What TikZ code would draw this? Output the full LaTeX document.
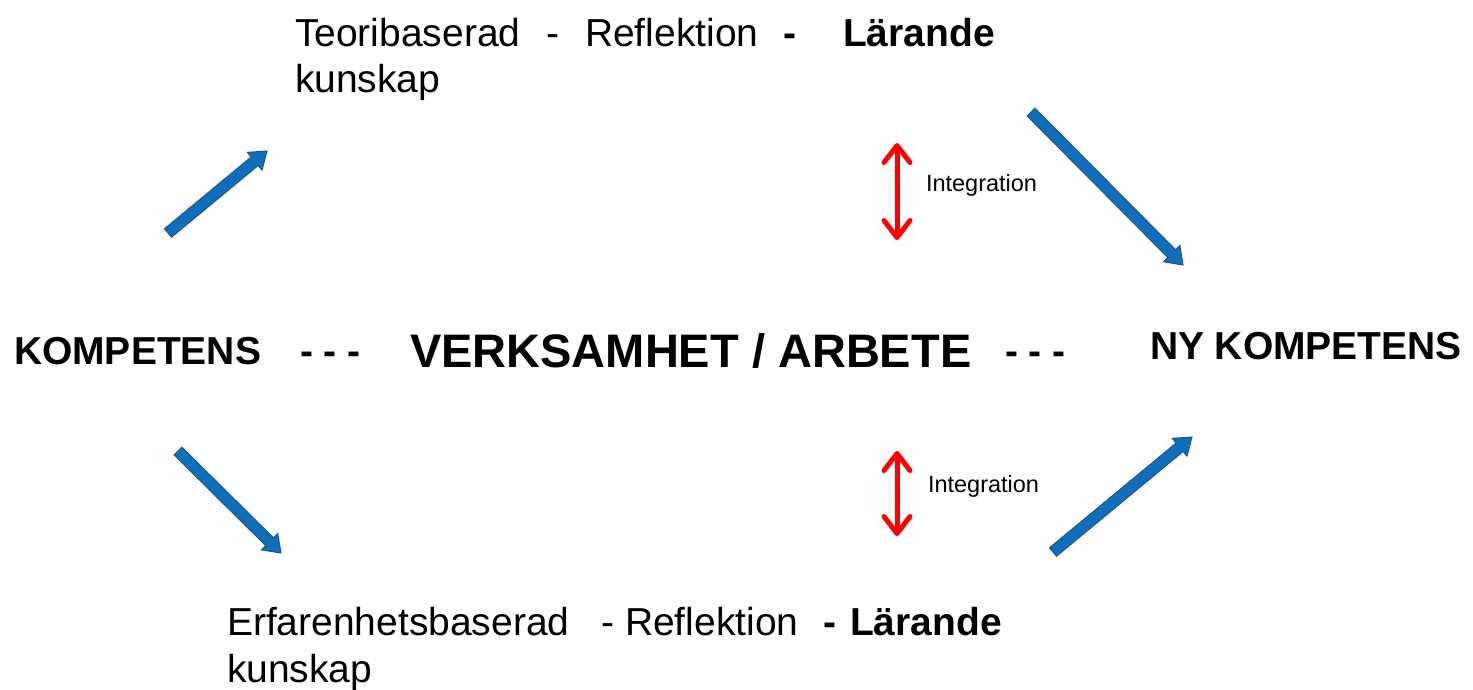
\documentclass[tikz,border=0pt]{standalone}
\usepackage{fontspec}
\setmainfont{Liberation Sans}
\usetikzlibrary{arrows.meta,calc}
\definecolor{blockblue}{RGB}{16,110,186}
\definecolor{blockedge}{RGB}{25,85,140}
\definecolor{intred}{RGB}{255,0,0}
\tikzset{
  txt/.style={inner sep=0pt, outer sep=0pt, anchor=base west, font=\fontsize{39}{47}\selectfont},
  txtc/.style={inner sep=0pt, outer sep=0pt, anchor=base, font=\fontsize{39}{47}\selectfont},
  big/.style={inner sep=0pt, outer sep=0pt, anchor=base west, font=\fontsize{39}{47}\selectfont\bfseries},
  huge/.style={inner sep=0pt, outer sep=0pt, anchor=base west, font=\fontsize{47}{56}\selectfont\bfseries},
  small/.style={inner sep=0pt, outer sep=0pt, anchor=west, font=\fontsize{23.5}{28}\selectfont},
  integ/.style={draw=intred, line width=5pt, line cap=round, {Straight Barb[round,length=17pt,width=26pt]}-{Straight Barb[round,length=17pt,width=26pt]}},
}
\newcommand{\blockarrow}[2]{%
  \coordinate (nk) at ($(#2)!16pt!(#1)$);
  \filldraw[fill=blockblue, draw=blockedge, line width=1pt, line join=miter]
    ($(#1)!5.5pt!90:(#2)$) -- ($(nk)!5.5pt!90:(#2)$) -- ($(nk)!11.5pt!90:(#2)$) -- (#2)
    -- ($(nk)!11.5pt!-90:(#2)$) -- ($(nk)!5.5pt!-90:(#2)$) -- ($(#1)!5.5pt!-90:(#2)$) -- cycle;
}
\begin{document}
\begin{tikzpicture}[x=1pt,y=-1pt]
\useasboundingbox (0,0) rectangle (1473,689);
% top text
\node[txt] (t1) at (295,46) {Teoribaserad};
\node[txtc] (t2) at (553,46) {-};
\node[txt] (t3) at (585,46) {Reflektion};
\node[txtc] (t4) at (790,46) {\bfseries -};
\node[txt] (t5) at (843,46) {\bfseries Lärande};
\node[txt] (t6) at (295,92) {kunskap};
% bottom text
\node[txt] (b1) at (227,635) {Erfarenhetsbaserad};
\node[txtc] (b2) at (608,635) {-};
\node[txt] (b3) at (625,635) {Reflektion};
\node[txtc] (b4) at (830,635) {\bfseries -};
\node[txt] (b5) at (850,635) {\bfseries Lärande};
\node[txt] (b6) at (227,682) {kunskap};
% middle row
\node[big] (komp) at (14,364) {KOMPETENS};
\node[big] (d1) at (300,364) {- - -};
\node[huge] (verk) at (410,367) {VERKSAMHET / ARBETE};
\node[big] (d2) at (1005,364) {- - -};
\node[big] (ny) at (1150,359) {NY KOMPETENS};
% integration labels
\node[small] (i1) at (926,185) {Integration};
\node[small] (i2) at (928,486) {Integration};
% red arrows
\coordinate (r1a) at (897,143);
\coordinate (r1b) at (897,240);
\coordinate (r2a) at (897,451);
\coordinate (r2b) at (897,536);
\draw[integ] (r1a) -- (r1b);
\draw[integ] (r2a) -- (r2b);
% blue block arrows
\coordinate (a1s) at (168,233);
\coordinate (a1e) at (267,151);
\coordinate (a2s) at (1031,112);
\coordinate (a2e) at (1183,265);
\coordinate (a3s) at (178,451);
\coordinate (a3e) at (281,553);
\coordinate (a4s) at (1053,552);
\coordinate (a4e) at (1192,437);
\blockarrow{a1s}{a1e}
\blockarrow{a2s}{a2e}
\blockarrow{a3s}{a3e}
\blockarrow{a4s}{a4e}
\end{tikzpicture}
\end{document}
